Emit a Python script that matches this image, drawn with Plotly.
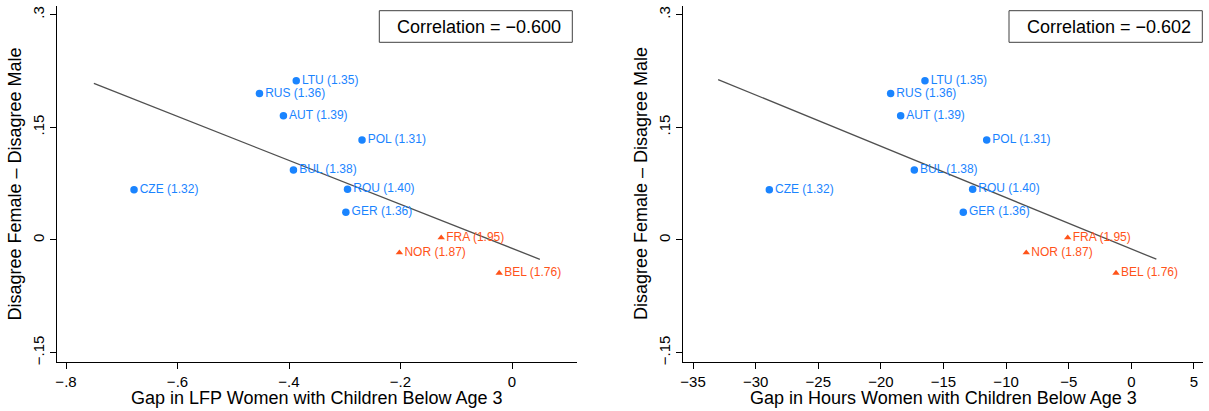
import numpy as np
import plotly.graph_objects as go

# ---------------- data ----------------
countries = ["LTU", "RUS", "AUT", "POL", "BUL", "CZE", "ROU", "GER", "FRA", "NOR", "BEL"]
fertility = [1.35, 1.36, 1.39, 1.31, 1.38, 1.32, 1.40, 1.36, 1.95, 1.87, 1.76]
high_fertility = [False, False, False, False, False, False, False, False, True, True, True]
gap_lfp = [-0.387, -0.453, -0.410, -0.269, -0.392, -0.678, -0.295, -0.298, -0.127, -0.202, -0.023]
gap_hours = [-16.48, -19.22, -18.42, -11.55, -17.33, -28.91, -12.67, -13.42, -5.08, -8.39, -1.22]
disagree_gap = [0.212, 0.195, 0.1655, 0.133, 0.093, 0.067, 0.0675, 0.037, 0.003, -0.017, -0.044]

fit_range_lfp = [-0.75, 0.05]
fit_range_hours = [-33.0, 2.0]
correlations = ["−0.600", "−0.602"]

x_title_lfp = "Gap in LFP Women with Children Below Age 3"
x_title_hours = "Gap in Hours Women with Children Below Age 3"
y_title = "Disagree Female – Disagree Male"

y_tickvals = [-0.15, 0, 0.15, 0.3]
y_ticktext = ["−.15", "0", ".15", ".3"]
lfp_tickvals = [-0.8, -0.6, -0.4, -0.2, 0]
lfp_ticktext = ["−.8", "−.6", "−.4", "−.2", "0"]
hours_tickvals = [-35, -30, -25, -20, -15, -10, -5, 0, 5]
hours_ticktext = ["−35", "−30", "−25", "−20", "−15", "−10", "−5", "0", "5"]

# ---------------- style ----------------
W, H = 1209, 411
FONT = "Liberation Sans, Arial, sans-serif"
BLUE = "#1a84ff"
ORANGE = "#ff5319"
LINE = "#505050"


def px(x):
    return x / W


def py(y):
    return 1 - y / H


fig = go.Figure()

panels = [
    (gap_lfp, fit_range_lfp, "x", "y"),
    (gap_hours, fit_range_hours, "x2", "y2"),
]

for xs, frange, xa, ya in panels:
    xs_arr = np.array(xs)
    ys_arr = np.array(disagree_gap)
    slope, intercept = np.polyfit(xs_arr, ys_arr, 1)
    fx = np.array(frange)
    fig.add_trace(go.Scatter(
        x=fx, y=intercept + slope * fx, mode="lines",
        line=dict(color=LINE, width=1.3), xaxis=xa, yaxis=ya,
        showlegend=False, hoverinfo="skip"))
    for flag, color, symbol, size in [(False, BLUE, "circle", 7.5), (True, ORANGE, "triangle-up", 6.5)]:
        idx = [i for i, h in enumerate(high_fertility) if h == flag]
        fig.add_trace(go.Scatter(
            x=[xs[i] for i in idx], y=[disagree_gap[i] for i in idx],
            mode="markers+text",
            text=[f"{countries[i]} ({fertility[i]:.2f})" for i in idx],
            textposition="middle right",
            textfont=dict(family=FONT, size=12, color=color),
            marker=dict(color=color, size=size, symbol=symbol, line=dict(width=0)),
            xaxis=xa, yaxis=ya, showlegend=False))

axis_common = dict(
    showline=True, linecolor="black", linewidth=1, mirror=False,
    showgrid=False, zeroline=False, ticks="outside", ticklen=6,
    tickwidth=1, tickcolor="black", automargin=False,
    tickfont=dict(family=FONT, size=15, color="black"),
)

y_dom = [py(361.5), py(6)]
fig.update_layout(
    width=W, height=H,
    margin=dict(l=0, r=0, t=0, b=0),
    paper_bgcolor="white", plot_bgcolor="white",
    showlegend=False,
    xaxis=dict(domain=[px(56.7), px(577)], range=[-0.8167, 0.1166],
               tickvals=lfp_tickvals, ticktext=lfp_ticktext, anchor="y", **axis_common),
    yaxis=dict(domain=y_dom, range=[-0.1618, 0.3115], tickvals=y_tickvals,
               ticktext=y_ticktext, tickangle=-90, anchor="x", **axis_common),
    xaxis2=dict(domain=[px(683.3), px(1203.3)], range=[-35.78, 5.75],
                tickvals=hours_tickvals, ticktext=hours_ticktext, anchor="y2", **axis_common),
    yaxis2=dict(domain=y_dom, range=[-0.1618, 0.3115], tickvals=y_tickvals,
                ticktext=y_ticktext, tickangle=-90, anchor="x2", **axis_common),
)

annotations = []
shapes = []
title_font = dict(family=FONT, size=18, color="black")
# x-axis titles
for cx, t in [(316.9, x_title_lfp), (943.3, x_title_hours)]:
    annotations.append(dict(x=px(cx), y=py(397.5), xref="paper", yref="paper",
                            text=t, showarrow=False, xanchor="center", yanchor="middle",
                            font=title_font))
# y-axis titles
for cx in [14.5, 641.1]:
    annotations.append(dict(x=px(cx), y=py(184), xref="paper", yref="paper",
                            text=y_title, showarrow=False, textangle=-90,
                            xanchor="center", yanchor="middle", font=title_font))
# correlation boxes
for (x0, x1), corr in zip([(379.3, 572.3), (1009.0, 1202.3)], correlations):
    shapes.append(dict(type="rect", xref="paper", yref="paper",
                       x0=px(x0), x1=px(x1), y0=py(42.3), y1=py(10.7),
                       line=dict(color="#404040", width=1), fillcolor="white"))
    annotations.append(dict(x=px((x0 + x1) / 2 + 3), y=py(26.7), xref="paper", yref="paper",
                            text=f"Correlation = {corr}", showarrow=False,
                            xanchor="center", yanchor="middle", font=title_font))

fig.update_layout(annotations=annotations, shapes=shapes)
fig.write_html(
    "out.html",
    config={"displayModeBar": False},
    post_script="document.body.style.margin='0';document.body.style.overflow='hidden';",
)
